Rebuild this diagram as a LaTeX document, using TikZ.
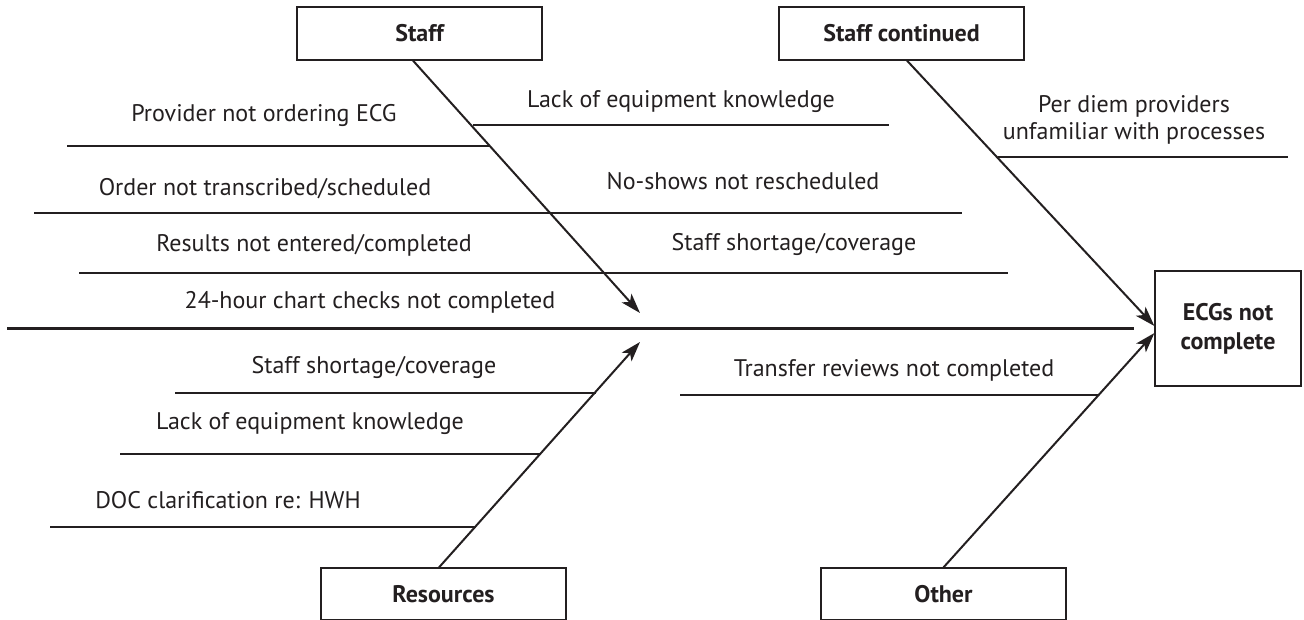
\documentclass[tikz,border=0pt]{standalone}
\usepackage{fontspec}
\setmainfont{PT Sans}
\usetikzlibrary{arrows.meta}
\definecolor{ink}{RGB}{35,31,32}
\begin{document}
\begin{tikzpicture}[x=1pt,y=-1pt,
  lbl/.style={font=\fontsize{24}{27}\selectfont, text=ink, align=center, inner sep=0pt},
  hd/.style={draw=ink, line width=1.2pt, font=\bfseries\fontsize{24}{29}\selectfont, text=ink, minimum width=245pt, inner sep=0pt, align=center},
  bone/.style={draw=ink, line width=2.2pt},
  diag/.style={draw=ink, line width=2pt},
  arr/.style={diag, -{Stealth[length=20pt,width=13pt,inset=5pt]}}]
\useasboundingbox (0,0) rectangle (1304,619);
\clip (0,0) rectangle (1304,619);
% heads
\node[hd, minimum height=53pt] (staff) at (419.5,33.5) {Staff};
\node[hd, minimum height=53pt] (contd) at (901.5,33.5) {Staff continued};
\node[hd, minimum width=146pt, minimum height=115pt] (ecg) at (1228,328.5) {ECGs not\\complete};
\node[hd, minimum height=52pt] (res) at (443.5,594) {Resources};
\node[hd, minimum height=52pt] (oth) at (943.5,594) {Other};
% labels
\node[lbl] (l1) at (264,115) {Provider not ordering ECG};
\node[lbl] (l2) at (681,102) {Lack of equipment knowledge};
\node[lbl] (l3) at (265,189) {Order not transcribed/scheduled};
\node[lbl] (l4) at (743,181) {No-shows not rescheduled};
\node[lbl] (l5) at (314,245) {Results not entered/completed};
\node[lbl] (l6) at (794,244) {Staff shortage/coverage};
\node[lbl] (l7) at (370,302) {24-hour chart checks not completed};
\node[lbl] (l8) at (1134,120) {Per diem providers\\unfamiliar with processes};
\node[lbl] (l9) at (374,367) {Staff shortage/coverage};
\node[lbl] (l10) at (310,424) {Lack of equipment knowledge};
\node[lbl] (l11) at (228,500) {DOC clarification re: HWH};
\node[lbl] (l12) at (894,370) {Transfer reviews not completed};
% bones
\draw[bone] (67,146) -- (490,146);
\draw[bone] (473,125) -- (889,125);
\draw[bone] (34,213) -- (962,213);
\draw[bone] (79,273) -- (1008,273);
\draw[bone] (998,157) -- (1288,157);
\coordinate (s1) at (7,328.5);
\coordinate (s2) at (1134,328.5);
\draw[bone] (s1) -- (s2);
\draw[bone] (175,393) -- (596,393);
\draw[bone] (120,454) -- (540,454);
\draw[bone] (50,527) -- (476,527);
\draw[bone] (680,395) -- (1098,395);
% arrows
\coordinate (tipA) at (640,313);
\coordinate (tipB) at (640,342);
\draw[arr] ([xshift=-6.5pt]staff.south) -- (tipA);
\draw[arr] ([xshift=-4.5pt]res.north) -- (tipB);
\draw[arr] ([xshift=5.5pt]contd.south) -- ([yshift=2.5pt]ecg.west);
\draw[arr] (oth.north) -- ([yshift=-4.5pt]ecg.west);
\end{tikzpicture}
\end{document}
